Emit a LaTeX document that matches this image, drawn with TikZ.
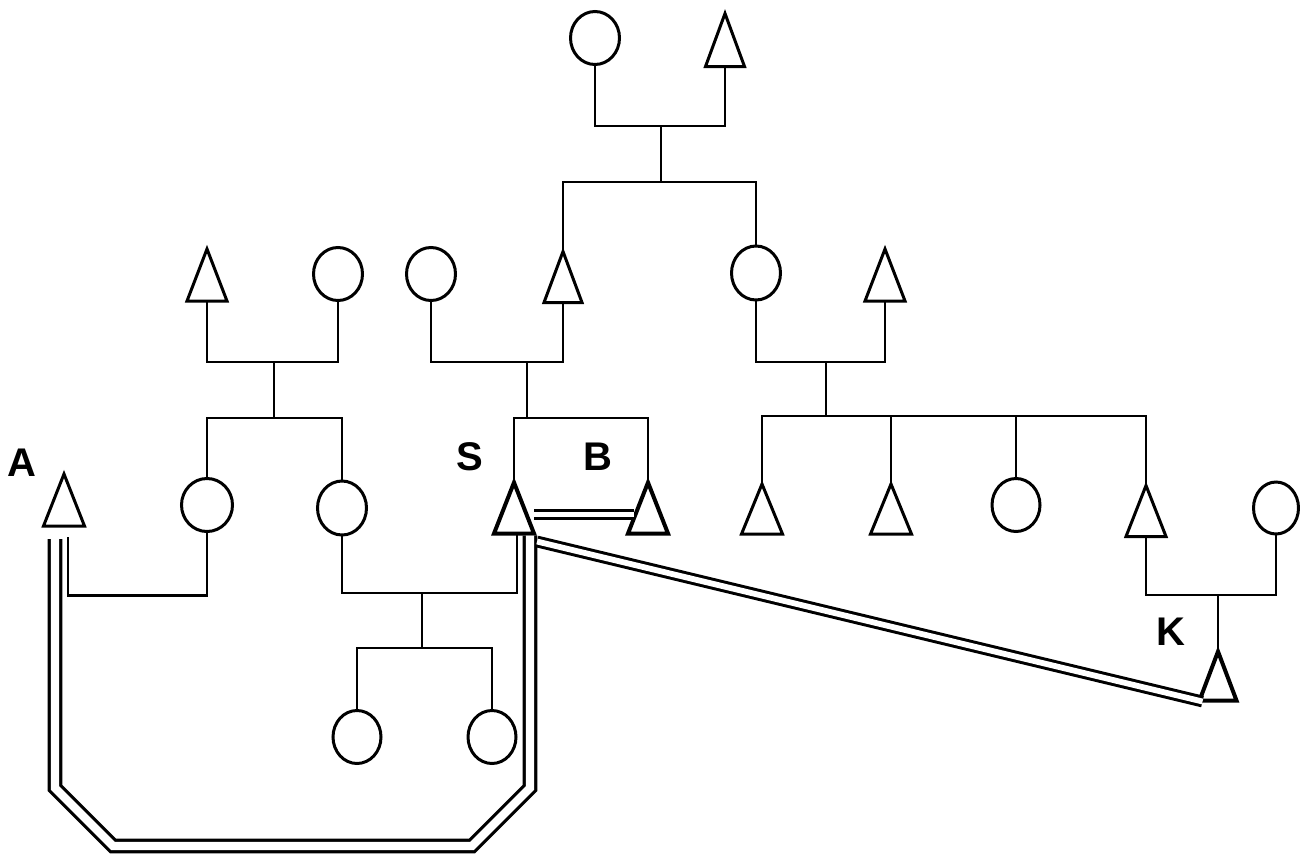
\documentclass[tikz,border=0pt]{standalone}
\usepackage{fontspec}
\setmainfont{Liberation Sans}
\usetikzlibrary{shapes.geometric}

\tikzset{
  conn/.style={line width=2.8pt},
  female/.style={ellipse, draw, line width=3pt, inner sep=0pt, outer sep=0pt,
    minimum width=49pt, minimum height=53pt},
  male/.style={rectangle, inner sep=0pt, outer sep=0pt,
    minimum width=40pt, minimum height=52pt},
  tri/.style={line width=3pt, line join=miter},
  tribold/.style={line width=4pt, line join=miter},
  dblwide/.style={line width=3.3pt, double=white, double distance=8.2pt},
  dblthin/.style={line width=3pt, double=white, double distance=5.8pt},
  lbl/.style={inner sep=0pt, font=\fontsize{40}{40}\selectfont\bfseries},
}

\begin{document}
\begin{tikzpicture}[x=1pt,y=-1pt]
\useasboundingbox (0,0) rectangle (1300,854);

% generation I
\node[female] (gc) at (595,38) {};
\node[male, minimum width=39pt, minimum height=53pt] (gt) at (725,40) {};

% generation II
\node[male] (L1) at (207,275) {};
\node[female] (L2) at (338,274) {};
\node[female] (M1) at (431,274) {};
\node[male, minimum width=38pt, minimum height=51pt] (M2) at (563,277) {};
\node[female, minimum height=54pt] (R1) at (756,273) {};
\node[male] (R2) at (885,275) {};

% generation III
\node[male, minimum width=41pt] (A) at (64,500) {};
\node[female, minimum width=51pt] (C1) at (207,505) {};
\node[female, minimum height=54pt] (C2) at (342,508) {};
\node[male, minimum width=40pt, minimum height=51pt] (S) at (514,508) {};
\node[male, minimum width=40pt, minimum height=51pt] (B) at (648,508) {};
\node[male, minimum width=41pt, minimum height=50pt] (R3) at (762,509) {};
\node[male, minimum width=41pt, minimum height=50pt] (R4) at (891,509) {};
\node[female, minimum width=48pt] (R5) at (1016,505) {};
\node[male, minimum height=51pt] (R6) at (1146,511) {};
\node[female, minimum width=45pt, minimum height=52pt] (R7) at (1276,508) {};

% generation IV
\node[female, minimum width=48pt] (D1) at (357,737) {};
\node[female, minimum width=48pt] (D2) at (492,737) {};
\node[male, minimum width=37pt, minimum height=49pt] (K) at (1218,676) {};

% triangle outlines for the male nodes
\foreach \n in {gt,L1,M2,R2,A,R3,R4,R6}
  \draw[tri] (\n.north) -- (\n.south east) -- (\n.south west) -- cycle;
\foreach \n in {S,B,K}
  \draw[tribold] (\n.north) -- (\n.south east) -- (\n.south west) -- cycle;

% marriage and sibship junctions
\coordinate (m1) at (661,126);  \coordinate (s1) at (661,182);
\coordinate (m2) at (274,362);  \coordinate (s2) at (274,418);
\coordinate (m3) at (527,362);  \coordinate (s3) at (527,418);
\coordinate (m4) at (826,362);  \coordinate (s4) at (826,416);
\coordinate (m6) at (422,593);  \coordinate (s6) at (422,648);
\coordinate (m7) at (1218,595);

% generation I family
\draw[conn] (gc.south) |- (m1) -| (gt.south);
\draw[conn] (m1) -- (s1);
\draw[conn] (M2.north) |- (s1) -| (R1.north);

% generation II families
\draw[conn] (L1.south) |- (m2) -| (L2.south);
\draw[conn] (m2) -- (s2);
\draw[conn] (C1.north) |- (s2) -| (C2.north);

\draw[conn] (M1.south) |- (m3) -| (M2.south);
\draw[conn] (m3) -- (s3);
\draw[conn] (S.north) |- (s3) -| (B.north);

\draw[conn] (R1.south) |- (m4) -| (R2.south);
\draw[conn] (m4) -- (s4);
\draw[conn] (R3.north) |- (s4) -| (R6.north);
\draw[conn] (R4.north) -- (R4.north |- s4);
\draw[conn] (R5.north) -- (R5.north |- s4);

% generation III families
\draw[conn] (C1.south) -- ++(0,64) -| ([shift={(4,11)}]A.south);
\draw[conn] (C2.south) |- (m6) -| ([xshift=3pt]S.south);
\draw[conn] (m6) -- (s6);
\draw[conn] (D1.north) |- (s6) -| (D2.north);
\draw[conn] (R6.south) |- (m7) -| (R7.south);
\draw[conn] (m7) -- (K.north);

% double lines from S
\draw[dblwide] ([shift={(-9,13)}]A.south) -- ++(0,249) -- ++(58,58)
  -- ++(359,0) -- ++(58,-58) -- ([shift={(16,2)}]S.south);
\draw[dblthin] ([shift={(0,6.5)}]S.east) -- ([shift={(6,6.5)}]B.west);
\draw[dblthin] ([shift={(3,8)}]S.south east) -- ([shift={(3,1)}]K.south west);

% labels
\node[lbl] (la) at (22,463) {A};
\node[lbl] (ls) at (470,457) {S};
\node[lbl] (lb) at (598,457) {B};
\node[lbl] (lk) at (1171,632) {K};
\end{tikzpicture}
\end{document}
